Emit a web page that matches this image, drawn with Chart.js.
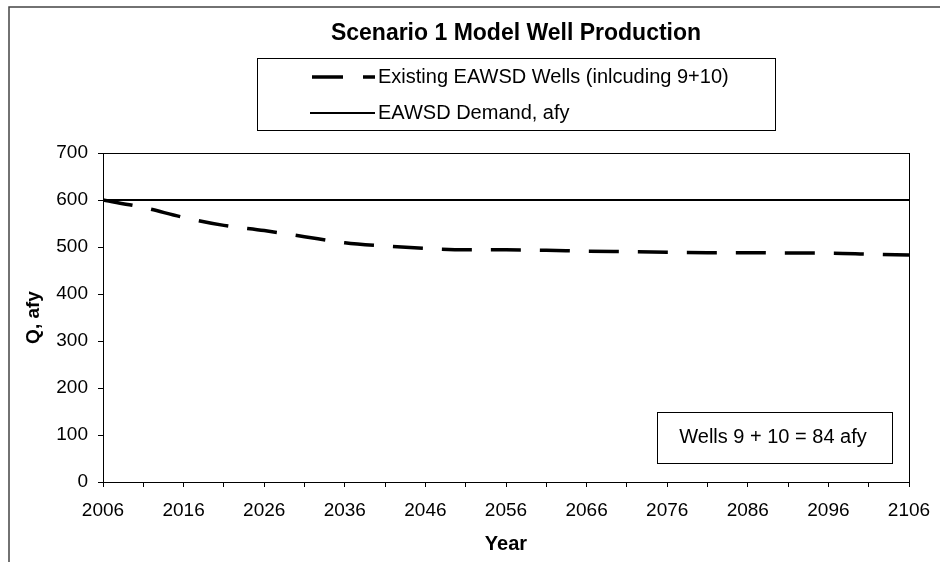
<!DOCTYPE html>
<html>
<head>
<meta charset="utf-8">
<script src="https://cdn.jsdelivr.net/npm/chart.js@4/dist/chart.umd.min.js"></script>
<style>
html,body{margin:0;padding:0;background:#fff;}
#c{display:block;}
</style>
</head>
<body>
<canvas id="c" width="947" height="562"></canvas>
<script>
// ---- data ----
const years = [2006, 2011, 2016, 2021, 2026, 2031, 2036, 2041, 2046, 2051, 2056,
               2061, 2066, 2071, 2076, 2081, 2086, 2091, 2096, 2101, 2106];
const existingWells = [600, 584, 563, 546, 535, 522, 509, 502, 497, 494, 494,
                       493, 491, 490, 489, 488, 488, 487, 487, 485, 483];
const demandYears = [2006, 2106];
const demand = [600, 600];
const xTickLabels = [2006, 2016, 2026, 2036, 2046, 2056, 2066, 2076, 2086, 2096, 2106];
const yTickLabels = [0, 100, 200, 300, 400, 500, 600, 700];
const titleText = 'Scenario 1 Model Well Production';
const seriesNames = ['Existing EAWSD Wells (inlcuding 9+10)', 'EAWSD Demand, afy'];
const noteText = 'Wells 9 + 10 = 84 afy';
const xTitle = 'Year';
const yTitle = 'Q, afy';

const FONT = '"Liberation Sans", Arial, sans-serif';
const DASH = [30, 19];

const decorations = {
  id: 'decorations',
  beforeDraw(chart) {
    const ctx = chart.ctx;
    ctx.save();
    ctx.fillStyle = '#fff';
    ctx.fillRect(0, 0, chart.width, chart.height);
    ctx.restore();
  },
  afterDraw(chart) {
    const ctx = chart.ctx;
    const a = chart.chartArea;
    ctx.save();
    // outer frame (top and left)
    ctx.strokeStyle = '#444';
    ctx.lineWidth = 1.5;
    ctx.beginPath();
    ctx.moveTo(9, 562); ctx.lineTo(9, 7); ctx.lineTo(940, 7);
    ctx.stroke();
    // plot area border
    ctx.strokeStyle = '#000';
    ctx.lineWidth = 1;
    ctx.strokeRect(Math.round(a.left) + 0.5, Math.round(a.top) + 0.5,
                   Math.round(a.right - a.left), Math.round(a.bottom - a.top));
    // title
    ctx.fillStyle = '#000';
    ctx.font = 'bold 23px ' + FONT;
    ctx.textAlign = 'center';
    ctx.textBaseline = 'middle';
    ctx.fillText(titleText, 516, 34);
    // legend box
    ctx.lineWidth = 1;
    ctx.strokeStyle = '#000';
    ctx.strokeRect(257.5, 58.5, 518, 72);
    ctx.font = '20px ' + FONT;
    ctx.textAlign = 'left';
    const ds = chart.data.datasets;
    // row 1 (dashed)
    ctx.beginPath();
    ctx.lineWidth = ds[0].borderWidth;
    ctx.setLineDash([31, 20]);
    ctx.moveTo(312, 77); ctx.lineTo(375, 77);
    ctx.stroke();
    ctx.setLineDash([]);
    ctx.fillText(ds[0].label, 378, 77);
    // row 2 (solid)
    ctx.beginPath();
    ctx.lineWidth = ds[1].borderWidth;
    ctx.moveTo(310, 113); ctx.lineTo(375, 113);
    ctx.stroke();
    ctx.fillText(ds[1].label, 378, 113);
    // note box
    ctx.lineWidth = 1;
    ctx.strokeRect(657.5, 412.5, 235, 51);
    ctx.textAlign = 'center';
    ctx.fillText(noteText, 773, 437);
    ctx.restore();
  }
};

new Chart(document.getElementById('c'), {
  type: 'line',
  data: {
    datasets: [
      {
        label: seriesNames[0],
        data: years.map((y, i) => ({x: y, y: existingWells[i]})),
        borderColor: '#000',
        borderWidth: 3.5,
        borderDash: DASH,
        pointRadius: 0,
        cubicInterpolationMode: 'monotone',
        fill: false
      },
      {
        label: seriesNames[1],
        data: demandYears.map((y, i) => ({x: y, y: demand[i]})),
        borderColor: '#000',
        borderWidth: 2,
        pointRadius: 0,
        fill: false
      }
    ]
  },
  options: {
    responsive: false,
    animation: false,
    devicePixelRatio: 1,
    layout: {padding: {left: 0, top: 153, right: 38, bottom: 0}},
    plugins: {
      legend: {display: false},
      title: {display: false},
      tooltip: {enabled: false}
    },
    scales: {
      x: {
        type: 'linear',
        min: xTickLabels[0],
        max: xTickLabels[xTickLabels.length - 1],
        afterFit(s) { s.height = 80; },
        afterBuildTicks(s) {
          const t = [];
          for (let v = s.min; v <= s.max; v += 5) t.push({value: v});
          s.ticks = t;
        },
        ticks: {
          autoSkip: false,
          maxRotation: 0,
          color: '#000',
          font: {family: FONT, size: 19},
          padding: 12,
          callback: v => xTickLabels.includes(v) ? String(v) : ''
        },
        grid: {display: true, drawOnChartArea: false, drawTicks: true, tickLength: 5, color: '#000'},
        border: {display: true, color: '#000', width: 1},
        title: {display: true, text: xTitle, color: '#000',
                font: {family: FONT, size: 20, weight: 'bold'}, padding: {top: 0, bottom: 6}}
      },
      y: {
        min: yTickLabels[0],
        max: yTickLabels[yTickLabels.length - 1],
        afterFit(s) { s.width = 103; },
        afterBuildTicks(s) { s.ticks = yTickLabels.map(v => ({value: v})); },
        ticks: {
          color: '#000',
          font: {family: FONT, size: 19},
          padding: 10
        },
        grid: {display: true, drawOnChartArea: false, drawTicks: true, tickLength: 5, color: '#000'},
        border: {display: true, color: '#000', width: 1},
        title: {display: true, text: yTitle, color: '#000',
                font: {family: FONT, size: 19, weight: 'bold'}, padding: {top: 22, bottom: 0}}
      }
    }
  },
  plugins: [decorations]
});
</script>
</body>
</html>
